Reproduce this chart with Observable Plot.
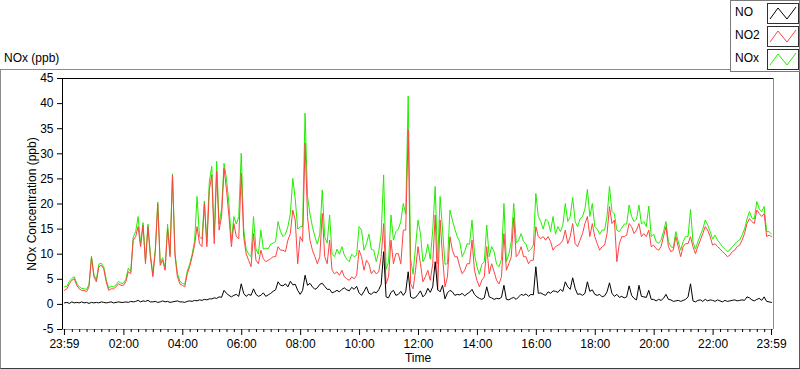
<!DOCTYPE html>
<html>
<head>
<meta charset="utf-8">
<script src="https://cdn.jsdelivr.net/npm/d3@7"></script>
<script src="https://cdn.jsdelivr.net/npm/@observablehq/plot@0.6"></script>
<style>
  html, body { margin: 0; padding: 0; background: #fff; }
  #wrap { position: relative; width: 800px; height: 369px; overflow: hidden;
          font-family: "Liberation Sans", Arial, sans-serif; font-size: 12px; color: #000; }
  #panel { position: absolute; left: 0; top: 69px; width: 800px; height: 300px; box-sizing: border-box;
           border: 1px solid #8c8c8c; border-right-color: #5a5a5a; border-bottom-color: #3c3c3c; z-index: 0; }
  #chart { position: absolute; left: 0; top: 0; z-index: 1; }
  #title { position: absolute; left: 4px; top: 51px; z-index: 2; white-space: nowrap; }
  #ylab { position: absolute; left: 31.5px; top: 204px; transform: translate(-50%, -50%) rotate(-90deg);
          white-space: nowrap; z-index: 2; }
  #xlab { position: absolute; left: 418px; top: 351px; transform: translateX(-50%); z-index: 2; white-space: nowrap; }
  #legend { position: absolute; left: 730px; top: 0; width: 70px; height: 72px; box-sizing: border-box;
            border: 1px solid #7a7a7a; background: #fff; z-index: 3; }
  .lrow { position: absolute; left: 4px; width: 64px; height: 20px; }
  .lrow span { position: absolute; left: 0; top: 2px; }
  .lrow svg { position: absolute; left: 32px; top: 0; }
</style>
</head>
<body>
<div id="wrap">
  <div id="panel"></div>
  <div id="chart"></div>
  <div id="title">NOx (ppb)</div>
  <div id="ylab">NOx Concentration (ppb)</div>
  <div id="xlab">Time</div>
  <div id="legend"></div>
</div>
<script>
// ---- data (5-minute samples starting 23:59) ----
const seriesNames = ["NO", "NO2", "NOx"];
const seriesColors = ["#000000", "#ff4343", "#22ee00"];

const no2 = [
  2.8, 3.1, 4.1, 4.8, 5.1, 3.8, 3.1, 2.8, 2.8, 2.5, 3.5, 9.3,
  5.5, 4.5, 7.5, 7.8, 7.1, 4.5, 2.8, 3.1, 3.1, 3.5, 4.1, 3.8,
  3.8, 4.5, 6.5, 6.1, 12.8, 13.5, 15.5, 11.5, 15.8, 8.1, 15.5, 9.5,
  5.5, 10.5, 20.0, 7.8, 8.8, 6.8, 15.1, 9.5, 25.8, 9.8, 5.5, 4.1,
  3.8, 3.5, 6.1, 7.5, 9.5, 11.8, 15.5, 12.1, 11.5, 20.1, 11.5, 22.8,
  25.8, 12.1, 26.5, 14.8, 17.5, 27.1, 22.8, 17.5, 11.5, 16.1, 13.5, 13.1,
  26.1, 13.5, 10.1, 8.8, 7.5, 14.1, 8.8, 8.1, 10.8, 9.1, 8.5, 8.8,
  9.1, 9.5, 9.5, 11.5, 10.8, 10.8, 10.5, 12.8, 14.1, 18.8, 16.8, 8.1,
  13.5, 12.5, 32.1, 17.5, 12.8, 10.8, 9.5, 8.1, 9.5, 18.1, 9.5, 8.1,
  12.8, 6.8, 6.1, 6.5, 5.8, 6.8, 5.5, 5.1, 4.8, 5.5, 5.1, 5.8,
  10.8, 9.5, 6.8, 8.8, 8.1, 6.1, 6.8, 6.1, 6.5, 9.5, 16.1, 4.1,
  5.5, 12.8, 8.1, 10.1, 10.1, 8.1, 14.8, 14.8, 34.8, 4.1, 3.1, 6.8,
  11.5, 8.1, 4.5, 5.5, 6.8, 4.8, 8.1, 17.8, 2.8, 16.8, 9.5, 3.5,
  5.5, 13.5, 10.8, 9.5, 9.5, 7.5, 6.1, 6.8, 8.1, 8.1, 12.8, 6.8,
  4.8, 3.5, 4.8, 5.5, 11.5, 6.1, 8.1, 6.5, 4.8, 4.1, 5.5, 14.1,
  6.8, 8.1, 9.5, 17.3, 9.5, 10.1, 11.5, 9.5, 9.5, 8.1, 8.8, 8.8,
  15.5, 13.5, 13.1, 13.5, 12.8, 13.5, 12.5, 10.8, 11.5, 11.8, 12.1, 12.8,
  14.8, 12.1, 13.5, 16.1, 12.1, 11.5, 12.8, 14.1, 16.1, 17.5, 13.5, 16.1,
  13.5, 12.1, 10.8, 11.5, 11.8, 14.1, 19.5, 16.1, 16.8, 8.5, 12.1, 13.5,
  13.5, 13.8, 16.1, 15.5, 14.1, 14.8, 16.1, 13.5, 14.1, 13.5, 14.8, 11.5,
  11.8, 11.1, 10.8, 11.5, 13.5, 15.5, 11.5, 10.5, 10.8, 13.5, 11.5, 9.5,
  11.5, 12.1, 12.1, 13.5, 11.5, 10.1, 11.5, 12.8, 14.1, 15.5, 14.8, 13.5,
  11.8, 12.1, 11.5, 11.1, 10.5, 10.1, 9.5, 9.8, 10.5, 10.8, 11.5, 11.8,
  12.8, 14.1, 16.1, 17.1, 16.5, 16.1, 18.8, 18.1, 17.5, 18.1, 13.5, 13.8, 13.5
];

const nox = [
  3.5, 3.6, 4.6, 5.2, 5.5, 4.2, 3.5, 3.2, 3.1, 3.0, 4.0, 9.6,
  5.9, 4.9, 8.0, 8.2, 7.5, 5.0, 3.2, 3.6, 3.5, 3.9, 4.6, 4.2,
  4.2, 5.0, 7.2, 6.5, 13.4, 14.5, 17.5, 12.0, 16.3, 8.6, 16.0, 10.0,
  6.0, 11.0, 20.4, 8.3, 9.3, 7.2, 16.0, 10.0, 26.0, 10.3, 6.2, 4.6,
  4.2, 4.0, 6.6, 8.0, 10.0, 12.6, 21.5, 13.5, 13.0, 20.6, 12.3, 24.5,
  27.5, 13.5, 28.5, 16.0, 19.0, 28.1, 25.0, 20.0, 12.5, 17.5, 16.0, 17.5,
  30.1, 15.0, 11.0, 10.0, 9.5, 17.5, 11.0, 10.0, 14.8, 11.0, 11.2, 11.1,
  12.0, 12.2, 12.5, 16.5, 14.5, 13.5, 14.0, 15.5, 18.0, 25.1, 21.0, 15.0,
  15.5, 15.5, 38.1, 21.5, 18.0, 15.5, 13.5, 12.0, 14.0, 22.8, 13.5, 12.2,
  17.8, 10.0, 9.5, 11.0, 10.0, 11.5, 9.8, 9.0, 8.5, 10.0, 9.5, 9.8,
  15.5, 14.8, 10.8, 12.1, 14.0, 11.0, 10.8, 8.5, 10.5, 14.0, 25.8, 7.0,
  8.5, 17.8, 12.8, 14.5, 15.0, 16.5, 20.1, 18.0, 41.5, 9.0, 6.0, 11.5,
  16.8, 14.1, 8.5, 9.5, 12.0, 9.0, 14.8, 23.5, 8.1, 21.5, 14.8, 8.0,
  8.1, 18.8, 16.8, 15.0, 13.5, 12.5, 9.5, 10.5, 12.1, 12.0, 16.8, 10.1,
  7.5, 6.0, 8.0, 8.5, 15.8, 9.5, 11.5, 10.5, 8.0, 7.5, 9.0, 20.1,
  8.5, 10.0, 12.5, 20.1, 12.3, 12.8, 14.1, 12.5, 12.0, 10.5, 11.0, 11.8,
  22.1, 17.5, 16.5, 15.0, 17.0, 16.5, 14.5, 17.5, 14.0, 15.5, 14.5, 15.8,
  20.1, 16.5, 17.5, 21.3, 16.5, 15.5, 17.0, 17.5, 19.0, 22.9, 17.5, 20.1,
  15.5, 15.0, 14.0, 14.8, 14.8, 17.5, 23.5, 18.5, 18.0, 14.8, 14.5, 15.2,
  16.0, 16.0, 19.8, 17.5, 16.5, 17.0, 19.8, 16.0, 16.5, 15.5, 19.6, 13.5,
  14.0, 12.5, 12.2, 12.8, 14.5, 16.5, 12.5, 11.5, 11.3, 14.5, 12.5, 10.8,
  12.5, 13.5, 13.5, 18.9, 12.5, 11.0, 12.5, 13.8, 15.0, 16.8, 15.8, 14.5,
  13.0, 13.8, 12.8, 12.2, 11.5, 11.0, 10.5, 10.8, 11.5, 12.0, 12.5, 12.8,
  13.8, 15.0, 17.0, 18.5, 17.2, 17.0, 20.5, 19.0, 18.5, 19.5, 14.5, 14.5, 14.0
];

const no = [
  0.3, 0.4, 0.2, 0.5, 0.3, 0.4, 0.3, 0.5, 0.3, 0.4, 0.2, 0.4,
  0.3, 0.4, 0.3, 0.5, 0.4, 0.3, 0.4, 0.5, 0.3, 0.4, 0.5, 0.4,
  0.4, 0.5, 0.4, 0.6, 0.5, 0.6, 0.8, 0.5, 0.7, 0.6, 0.8, 0.5,
  0.5, 0.6, 0.4, 0.5, 0.7, 0.5, 0.6, 0.4, 0.5, 0.6, 0.7, 0.5,
  0.5, 0.4, 0.6, 0.7, 0.6, 0.8, 0.7, 0.9, 0.8, 1.0, 0.9, 1.1,
  1.1, 1.3, 1.2, 1.5, 1.4, 2.8, 2.2, 1.8, 1.5, 1.8, 2.0, 1.6,
  4.1, 2.2, 1.6, 2.0, 1.8, 3.1, 2.0, 1.6, 1.8, 2.3, 1.6, 1.9,
  2.2, 2.6, 2.9, 4.5, 3.8, 3.7, 4.1, 3.5, 4.6, 3.9, 4.0, 2.8,
  2.0, 2.8, 5.8, 3.8, 4.2, 3.5, 3.0, 3.3, 4.0, 4.2, 3.6, 3.0,
  3.0, 2.3, 2.5, 2.8, 2.5, 3.0, 3.3, 2.9, 2.7, 3.4, 3.0, 3.6,
  2.3, 1.8, 2.6, 3.5, 2.2, 2.0, 2.5, 2.3, 2.9, 4.0, 10.5, 1.5,
  1.3, 2.4, 2.8, 1.8, 2.0, 2.6, 1.8, 2.5, 6.5, 1.5, 1.2, 1.4,
  2.0, 2.7, 1.5, 2.0, 3.2, 2.4, 3.5, 8.5, 3.0, 2.5, 3.8, 1.1,
  2.3, 2.8, 2.5, 1.8, 2.0, 1.9, 2.2, 1.7, 2.1, 2.4, 3.0, 2.0,
  1.5, 1.2, 1.0, 1.3, 3.5, 1.5, 1.3, 1.0, 1.2, 1.1, 1.4, 3.8,
  1.0, 0.9, 1.2, 1.4, 1.0, 1.5, 2.0, 1.8, 2.1, 1.6, 2.0, 1.9,
  7.5, 2.2, 2.3, 2.0, 1.8, 2.5, 2.2, 2.7, 2.6, 2.4, 3.0, 2.6,
  4.5, 3.5, 3.0, 5.3, 3.2, 2.0, 2.1, 1.8, 2.2, 4.5, 2.6, 2.9,
  2.0, 1.8, 2.0, 1.5, 1.7, 2.5, 4.3, 2.2, 1.6, 2.0, 1.4, 1.6,
  1.3, 1.5, 3.7, 1.8, 1.2, 0.9, 3.8, 1.6, 1.5, 1.4, 2.8, 1.0,
  1.0, 0.7, 1.0, 0.8, 1.2, 2.0, 1.0, 0.9, 0.6, 0.7, 0.8, 0.6,
  0.8, 1.0, 1.5, 4.1, 0.7, 0.5, 0.8, 0.9, 0.6, 1.0, 0.7, 0.9,
  0.8, 0.6, 0.9, 0.7, 0.5, 0.8, 0.6, 0.7, 0.8, 0.9, 0.7, 0.8,
  0.9, 0.8, 1.5, 1.3, 0.9, 0.7, 1.0, 1.2, 0.8, 1.5, 0.6, 0.5, 0.4
];

const xTickLabels = ["23:59", "02:00", "04:00", "06:00", "08:00", "10:00", "12:00",
                     "14:00", "16:00", "18:00", "20:00", "22:00", "23:59"];
const yTicks = [-5, 0, 5, 10, 15, 20, 25, 30, 35, 40, 45];

// ---- build ----
const MIN = 60 * 1000;
const start = new Date(2000, 0, 1, 23, 59);
const end = new Date(start.getTime() + 24 * 60 * MIN);
const xMin = new Date(start.getTime() - 4 * MIN);
const xMax = new Date(end.getTime() + 4 * MIN);
const timeAt = i => new Date(start.getTime() + i * 5 * MIN);

function rows(values) { return values.map((v, i) => ({t: timeAt(i), v})); }

const majorTicks = xTickLabels.map((lab, i) => {
  if (i === 0) return start;
  if (i === xTickLabels.length - 1) return end;
  const [h, m] = lab.split(":").map(Number);
  return new Date(2000, 0, 2, h, m);
});
const labelByTime = new Map(majorTicks.map((d, i) => [+d, xTickLabels[i]]));
const minorTicks = d3.timeMinute.every(15).range(start, end)
  .filter(d => !(d.getMinutes() === 0 && (d.getHours() % 2 === 0)));

const chart = Plot.plot({
  width: 800,
  height: 369,
  marginLeft: 62,
  marginRight: 27,
  marginTop: 78,
  marginBottom: 40,
  style: {background: "transparent", fontFamily: "'Liberation Sans', Arial, sans-serif", fontSize: "12px", color: "#000", overflow: "visible"},
  x: {type: "time", domain: [xMin, xMax]},
  y: {domain: [-5, 45]},
  marks: [
    Plot.line(rows(nox), {x: "t", y: "v", stroke: seriesColors[2], strokeWidth: 1}),
    Plot.line(rows(no2), {x: "t", y: "v", stroke: seriesColors[1], strokeWidth: 1}),
    Plot.line(rows(no), {x: "t", y: "v", stroke: seriesColors[0], strokeWidth: 1}),
    Plot.ruleY([45], {stroke: "#000"}),
    Plot.ruleY([-5], {stroke: "#8c8c8c"}),
    Plot.ruleX([xMin], {stroke: "#000"}),
    Plot.ruleX([xMax], {stroke: "#8c8c8c"}),
    Plot.axisY({ticks: yTicks, tickSize: 5, tickPadding: 4, label: null, tickFormat: d => String(d)}),
    Plot.axisX({ticks: majorTicks, tickSize: 6, tickPadding: 4, label: null, tickFormat: d => labelByTime.get(+d)}),
    Plot.axisX({ticks: minorTicks, tickSize: 3, label: null, tickFormat: () => ""})
  ]
});
document.getElementById("chart").appendChild(chart);

// ---- legend ----
const legend = document.getElementById("legend");
seriesNames.forEach((name, i) => {
  const row = document.createElement("div");
  row.className = "lrow";
  row.style.top = (2 + i * 23) + "px";
  row.innerHTML = `<span>${name}</span>` +
    `<svg width="32" height="21"><rect x="0.5" y="0.5" width="31" height="20" fill="#fff" stroke="#303030"/>` +
    `<polyline points="3,16 11,5 20,16 29,4" fill="none" stroke="${seriesColors[i]}" stroke-width="1"/></svg>`;
  legend.appendChild(row);
});
</script>
</body>
</html>
